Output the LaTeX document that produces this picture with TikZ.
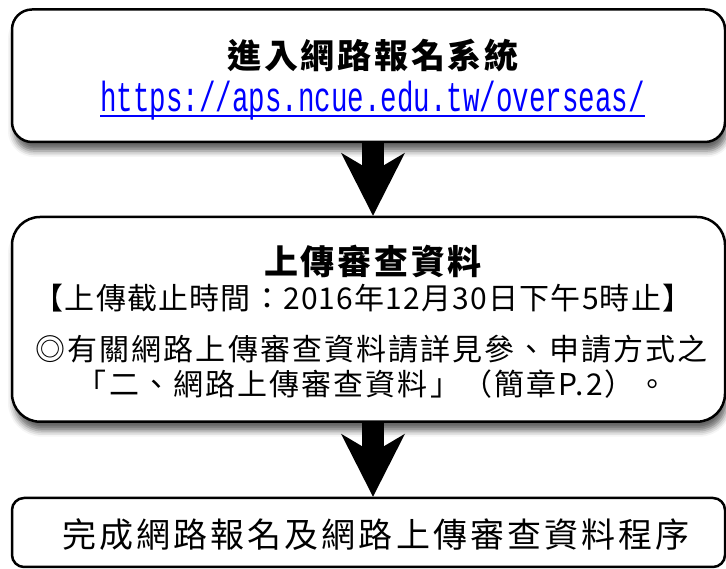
\documentclass[tikz,border=0pt]{standalone}
\usepackage{fontspec}
\usetikzlibrary{arrows.meta,shadows.blur}
\newfontfamily\cjkhead[LetterSpace=8]{Noto Sans CJK TC}
\newfontfamily\cjkdone[LetterSpace=9]{Noto Sans CJK TC}
\newfontfamily\cjkbody[LetterSpace=7]{Noto Sans CJK TC}
\newfontfamily\cjkdate[LetterSpace=4]{Noto Sans CJK TC}
\newfontfamily\urlfont[FakeStretch=0.655]{Liberation Mono}
\definecolor{linkblue}{RGB}{0,0,255}
\newsavebox\linkbox
\newcommand{\ulink}[1]{\sbox\linkbox{#1}\rlap{\rule[-5.3pt]{\wd\linkbox}{2pt}}\usebox\linkbox}

\begin{document}
\begin{tikzpicture}[x=1pt,y=1pt,
  box/.style={draw,line width=2.5pt,fill=white,rounded corners=#1,inner sep=0pt,minimum width=713pt},
  box/.default=20pt,
  shade box/.style={blur shadow={shadow xshift=2pt,shadow yshift=-9pt,shadow blur radius=6pt,shadow opacity=60}},
  headtext/.style={font=\cjkhead\bfseries\fontsize{34}{40}\selectfont,inner sep=0pt},
  donetext/.style={font=\cjkdone\fontsize{34}{40}\selectfont,inner sep=0pt},
  bodytext/.style={font=\cjkbody\fontsize{30}{36}\selectfont,inner sep=0pt},
  datetext/.style={font=\cjkdate\fontsize{30}{36}\selectfont,inner sep=0pt},
  linktext/.style={font=\urlfont\fontsize{42}{48}\selectfont,text=linkblue,inner sep=0pt},
  bigarrow/.style={line width=21.6pt,-{Stealth[length=63pt,width=64pt,inset=19pt,line width=0pt]}}]
\useasboundingbox (0,0) rectangle (726,569);

% boxes
\node[box, shade box, minimum height=132.5pt] (reg) at (368.5,493.25) {};
\node[box=28pt, shade box, minimum height=204.7pt] (upl) at (368.5,249.65) {};
\node[box=12pt, minimum height=69pt] (done) at (368.5,36.5) {};

% texts
\node[headtext] (regtitle) at (373,513) {進入網路報名系統};
\node[linktext, anchor=base] (regurl) at (372.5,457) {\ulink{https://aps.ncue.edu.tw/overseas/}};
\node[headtext] (upltitle) at (373,308) {上傳審查資料};
\node[datetext] (deadline) at (363,271) {【上傳截止時間：2016年12月30日下午5時止】};
\node[bodytext] (notea) at (371.5,220) {◎有關網路上傳審查資料請詳見參、申請方式之};
\node[bodytext] (noteb) at (372,185) {「二、網路上傳審查資料」（簡章P.2）。};
\node[donetext] (donetitle) at (376,34) {完成網路報名及網路上傳審查資料程序};

% arrows
\draw[bigarrow] (regtitle |- reg.south) -- (regtitle |- upl.north);
\draw[bigarrow] (regtitle |- upl.south) -- (regtitle |- done.north);
\end{tikzpicture}
\end{document}
